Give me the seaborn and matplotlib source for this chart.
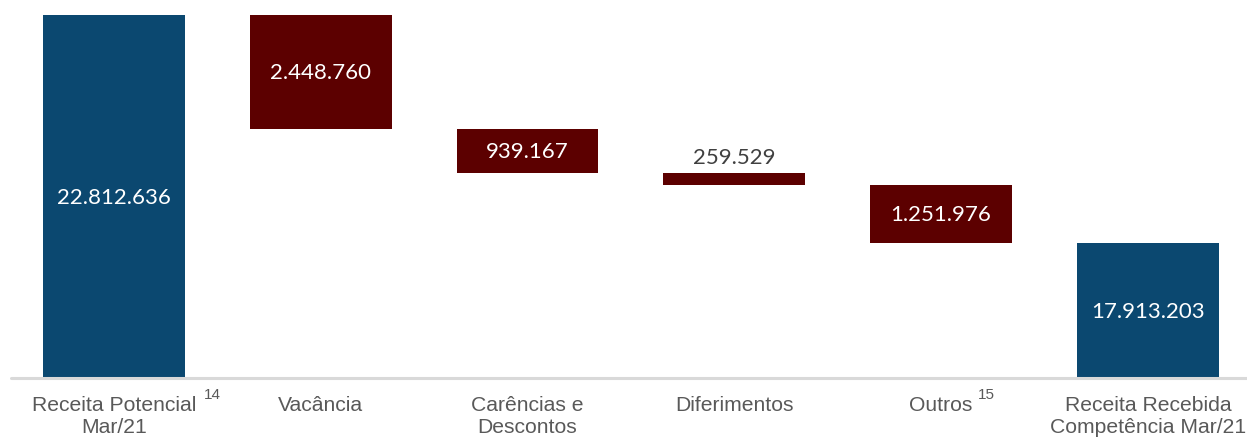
import matplotlib
matplotlib.use("Agg")
import matplotlib.pyplot as plt
import matplotlib.transforms as mtrans
import seaborn as sns
import pandas as pd

categories = ["Receita Potencial\nMar/21", "Vacância", "Carências e\nDescontos",
              "Diferimentos", "Outros", "Receita Recebida\nCompetência Mar/21"]
superscripts = ["14", "", "", "", "15", ""]
values = [22812636, -2448760, -939167, -259529, -1251976, 17913203]
labels = ["22.812.636", "2.448.760", "939.167", "259.529", "1.251.976", "17.913.203"]
kinds = ["total", "delta", "delta", "delta", "delta", "total"]

BLUE = "#0B4870"
RED = "#5C0000"
YMIN = 15.012e6
YMAX = 22812636

# compute floating bar extents
tops, bottoms = [], []
running = 0
for v, k in zip(values, kinds):
    if k == "total":
        running = v
        tops.append(v)
        bottoms.append(0)
    else:
        tops.append(running)
        running = running + v
        bottoms.append(running)

df = pd.DataFrame({"cat": categories, "top": tops, "bottom": bottoms,
                   "color": [BLUE if k == "total" else RED for k in kinds]})

sns.set_theme(style="white")
fig = plt.figure(figsize=(12.47, 4.37), dpi=100)
W, H = 1247, 437
slot = 206.8
left_px = 10.5
ax = fig.add_axes([left_px / W, (H - 378) / H, 6 * slot / W, (378 - 15) / H])

sns.barplot(data=df, x="cat", y="top", hue="cat", palette=list(df["color"]),
            width=0.686, ax=ax, legend=False, saturation=1, linewidth=0)
sns.barplot(data=df, x="cat", y="bottom", color="white", width=0.72, ax=ax,
            saturation=1, linewidth=0)

ax.set_ylim(YMIN, YMAX)
ax.set_xlim(-0.5, 5.5)
for s in ["top", "right", "left", "bottom"]:
    ax.spines[s].set_visible(False)
ax.axhline(YMIN, color="#D9D9D9", lw=2.2, zorder=5, clip_on=False)
ax.set_yticks([])
ax.set_xlabel("")
ax.set_ylabel("")
ax.tick_params(axis="x", length=0, pad=13)
ax.set_xticks(range(6))
ax.set_xticklabels(categories, fontsize=15.2, color="#595959",
                   family="Liberation Sans", linespacing=1.18)

# data labels
for i, (t, b, lab, k) in enumerate(zip(tops, bottoms, labels, kinds)):
    lo = max(b, YMIN)
    height_px = (t - lo) / (YMAX - YMIN) * 363
    if height_px > 30:
        ax.text(i, (t + lo) / 2 - 0.03e6, lab, ha="center", va="center", color="white",
                fontsize=16, family="Lato")
    else:
        ax.annotate(lab, (i, t), xytext=(0, 3), textcoords="offset points",
                    ha="center", va="bottom", color="#404040", fontsize=16,
                    family="Lato")

# superscripts
trans = mtrans.blended_transform_factory(ax.transData, ax.transAxes)
sup_x = {0: 0.435, 4: 0.18}
for i, sup in enumerate(superscripts):
    if sup:
        ax.text(i + sup_x[i], -0.027, sup, transform=trans, ha="left", va="top",
                fontsize=11, color="#595959", family="Liberation Sans")

fig.savefig("out.png", dpi=100)
